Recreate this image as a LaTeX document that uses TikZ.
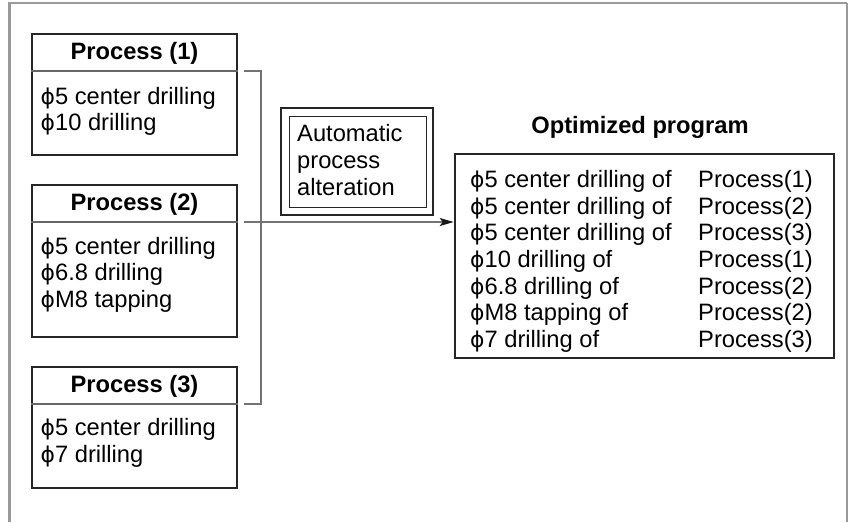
\documentclass[tikz,border=0pt]{standalone}
\usepackage{fontspec}
\setmainfont{Liberation Sans}
\newfontfamily\phifont{DejaVu Sans}
\newcommand{\dia}{{\phifont\addfontfeatures{Scale=0.92}ϕ}}
\usetikzlibrary{arrows.meta,calc}

\tikzset{
  txt/.style={anchor=base west, inner sep=0pt, font=\fontsize{23.7}{26.7}\selectfont},
  headtxt/.style={anchor=base, inner sep=0pt, font=\fontsize{23.7}{26.7}\selectfont\bfseries},
  procbox/.style={draw=black!85, line width=1.9pt, minimum width=205pt, inner sep=0pt},
  divline/.style={draw=black!60, line width=1.4pt},
  brace/.style={draw=black!55, line width=1.2pt},
}

\begin{document}
\begin{tikzpicture}[x=1pt,y=-1pt]
    \useasboundingbox (0,0) rectangle (848,522);

    % outer frame (open at the bottom)
    \draw[black!40, line width=2.5pt] (9.7,522) -- (9.7,3) -- (846.7,3);
    \draw[black!40, line width=1.6pt] (846.7,3) -- (846.7,522);

    % the three processes
    \foreach \i/\py/\hgt in {1/33/121, 2/184/152, 3/366/121} {
        \node[procbox, minimum height=\hgt, anchor=north] (p\i) at (134.5,\py) {};
        \node[headtxt] (h\i) at ($(p\i.north)+(0,26.5)$) {Process (\i)};
        \draw[divline] ($(p\i.north west)+(0,38)$) coordinate (dw\i)
            -- ($(p\i.north east)+(0,38)$) coordinate (de\i);
    }
    \node[txt] (p1a) at (40.5,104) {\dia5 center drilling};
    \node[txt] (p1b) at (40.5,130.7) {\dia10 drilling};
    \node[txt] (p2a) at (40.5,254) {\dia5 center drilling};
    \node[txt] (p2b) at (40.5,280.7) {\dia6.8 drilling};
    \node[txt] (p2c) at (40.5,307.4) {\dia M8 tapping};
    \node[txt] (p3a) at (40.5,435.5) {\dia5 center drilling};
    \node[txt] (p3b) at (40.5,462.2) {\dia7 drilling};

    % automatic alteration
    \node[draw=black!85, line width=2.2pt, minimum width=152, minimum height=107] (auto) at (357,161.5) {};
    \node[draw=black!85, line width=0.9pt, minimum width=137, minimum height=91] (autoin) at (357.5,161.5) {};
    \node[txt] (au1) at (297,141.7) {Automatic};
    \node[txt] (au2) at (297,168.4) {process};
    \node[txt] (au3) at (297,195.1) {alteration};

    % optimized program
    \node[headtxt] (optt) at (640,133.5) {Optimized program};
    \node[draw=black!85, line width=2.6pt, minimum width=379, minimum height=204] (opt) at (644.5,256) {};
    \foreach \a/\b [count=\k] in {5 center drilling of/1, 5 center drilling of/2,
        5 center drilling of/3, 10 drilling of/1, 6.8 drilling of/2,
        M8 tapping of/2, 7 drilling of/3} {
        \node[txt] (r\k) at (470,{187.3+26.7*(\k-1)}) {\dia\a};
        \node[txt] (s\k) at (698,{187.3+26.7*(\k-1)}) {Process(\b)};
    }

    % bracket and arrow
    \draw[brace] ($(de1)+(6,0)$) -| ($(de3)+(23,0)$) -- ($(de3)+(6,0)$);
    \draw[brace, -{Stealth[length=14pt, width=8pt, inset=3pt, color=black!90]}]
        ($(de2)+(6,0)$) -- (opt.west |- de2);
\end{tikzpicture}
\end{document}
